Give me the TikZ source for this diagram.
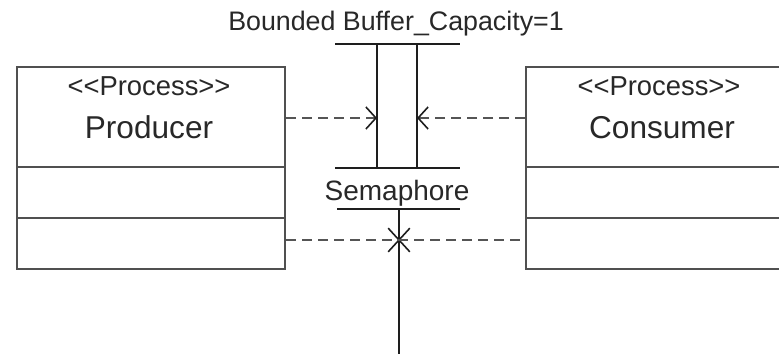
\documentclass[tikz,border=0pt]{standalone}
\usepackage{fontspec}
\setmainfont{Liberation Sans}
\usetikzlibrary{arrows.meta,shapes.misc}

\definecolor{boxgray}{RGB}{80,80,80}
\definecolor{barblack}{RGB}{30,30,30}
\definecolor{dashgray}{RGB}{85,85,85}
\definecolor{textgray}{RGB}{40,40,40}

\begin{document}
\begin{tikzpicture}[x=0.5pt, y=-0.5pt,
    classbox/.style={draw=boxgray, line width=1pt, minimum width=134pt,
      minimum height=101pt, inner sep=0pt},
    classline/.style={draw=boxgray, line width=1pt},
    bar/.style={draw=barblack, line width=1.4pt},
    depend/.style={draw=dashgray, line width=1pt, dash pattern=on 5pt off 3pt},
    barb/.style={-{Straight Barb[length=5pt, width=11pt, line width=0.8pt, color=barblack]}},
    lbl/.style={text=textgray, anchor=base, inner sep=0pt}]

    % Frame
    \useasboundingbox (0,0) rectangle (779,353);
    \clip (0,0) rectangle (779,353);

    % Title
    \node[lbl, font=\fontsize{13.4pt}{15pt}\selectfont] (title) at (396,31) {Bounded Buffer\_Capacity=1};

    % Producer class
    \node[classbox] (producer) at (151,168) {};
    \draw[classline] ([yshift=-50.5pt]producer.north west) -- ([yshift=-50.5pt]producer.north east);
    \draw[classline] ([yshift=-76pt]producer.north west) -- ([yshift=-76pt]producer.north east);
    \node[lbl, font=\fontsize{13.7pt}{15pt}\selectfont] (prodstereo) at (149,95) {{<}{<}Process{>}{>}};
    \node[lbl, font=\fontsize{15.8pt}{18pt}\selectfont] (prodname) at (149,138) {Producer};

    % Consumer class
    \node[classbox] (consumer) at (660,168) {};
    \draw[classline] ([yshift=-50.5pt]consumer.north west) -- ([yshift=-50.5pt]consumer.north east);
    \draw[classline] ([yshift=-76pt]consumer.north west) -- ([yshift=-76pt]consumer.north east);
    \node[lbl, font=\fontsize{13.7pt}{15pt}\selectfont] (consstereo) at (659,95) {{<}{<}Process{>}{>}};
    \node[lbl, font=\fontsize{15.8pt}{18pt}\selectfont] (consname) at (662,138) {Consumer};

    % Bounded buffer
    \draw[bar] (335,44) -- (460,44);
    \draw[bar] (335,168) -- (460,168);
    \draw[bar] (377,44) -- (377,168);
    \draw[bar] (417,44) -- (417,168);
    \coordinate (bufL) at (377,118);
    \coordinate (bufR) at (417,118);

    % Semaphore
    \node[lbl, font=\fontsize{14pt}{16pt}\selectfont] (semaphore) at (397,200) {Semaphore};
    \draw[bar] (337,209) -- (460,209);
    \draw[bar] (399,209) -- (399,360);
    \draw[bar, draw=gray!35] (340,355) -- (460,355);

    % Dependencies
    \draw[depend, barb] (producer.east |- bufL) -- (bufL);
    \draw[depend, barb] (consumer.west |- bufR) -- (bufR);
    \node[cross out, draw=barblack, line width=0.8pt, minimum width=10pt,
      minimum height=11pt, inner sep=0pt] (cross) at (399,240) {};
    \draw[depend] (producer.east |- cross) -- (consumer.west |- cross);
\end{tikzpicture}
\end{document}
